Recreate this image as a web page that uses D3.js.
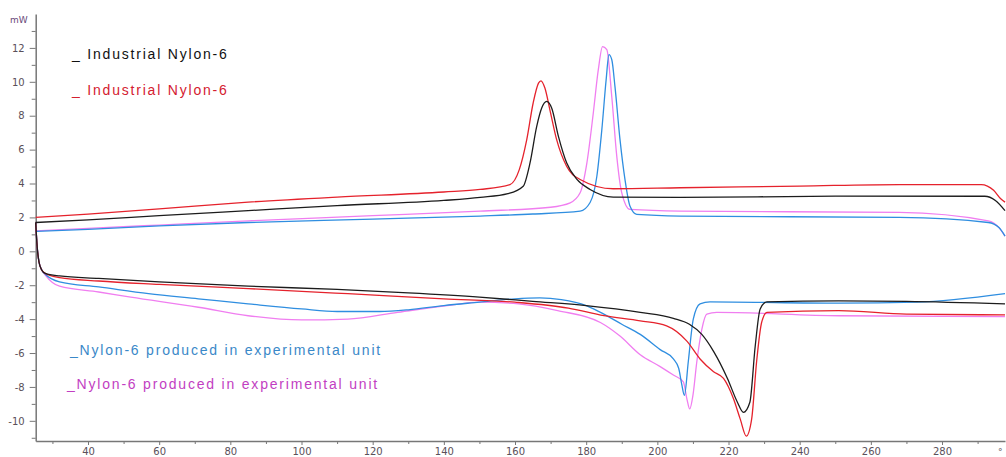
<!DOCTYPE html>
<html>
<head>
<meta charset="utf-8">
<script src="https://cdn.jsdelivr.net/npm/d3@7"></script>
<style>
  body { margin: 0; background: #fff; }
  .tick text { font-family: "DejaVu Sans", sans-serif; font-size: 10px; fill: #5a505a; }
  .axis path, .axis line { stroke: #777; }
  .legend { font-family: "Liberation Sans", Arial, sans-serif; font-size: 14px; letter-spacing: 1.8px; }
</style>
</head>
<body>
<div id="wrapper"></div>
<script>
// temperature (°C), heat flow (mW)
const blackCool = [[25.3,1.7],[40,1.85],[60,2.1],[85,2.4],[110,2.7],[140,3.0],[150.2,3.18],[158,3.4],[162.3,3.84],[164.2,5.2],[166.1,7.37],[167.5,8.45],[168.9,8.84],[170.3,8.45],[172.2,6.78],[174.5,5.22],[177.4,4.24],[181.1,3.65],[187.6,3.2],[206.4,3.18],[250,3.25],[292,3.25],[295,3.0],[297.7,2.4]]
const redCool = [[25.3,2.0],[40,2.2],[60,2.5],[85,2.9],[110,3.2],[140,3.5],[150.2,3.65],[158.6,3.94],[161.2,4.82],[163.3,6.59],[165.1,8.75],[166.6,9.92],[167.3,10.06],[168.4,9.63],[169.8,8.35],[171.7,6.59],[174.5,5.02],[178.3,4.24],[187.6,3.69],[206.4,3.75],[240,3.85],[268,3.94],[291,3.94],[294.5,3.6],[296.5,3.1],[297.7,2.9]]
const blueCool = [[25.3,1.18],[40,1.3],[60,1.5],[85,1.7],[120,1.9],[150.2,2.08],[165,2.2],[178.3,2.37],[181.1,2.88],[183,4.43],[184.4,7.18],[185.6,10.1],[186.4,11.6],[187.2,11.3],[188.1,9.7],[189.5,6.6],[190.9,4.24],[192.3,2.67],[194.2,2.18],[206.4,2.08],[268,2.0],[293,1.7],[296,1.4],[297.7,0.9]]
const pinkCool = [[25.3,1.2],[40,1.35],[60,1.55],[85,1.8],[120,2.1],[150.2,2.37],[170,2.6],[175.5,2.86],[178.3,3.45],[180.2,5.22],[182,8.16],[183.4,10.7],[184.6,12.08],[185.8,11.9],[187.2,9.1],[188.6,5.6],[190,3.45],[192.3,2.47],[206.4,2.37],[268,2.3],[293,1.8],[296,1.4],[297.7,0.9]]

const blackHeat = [[25.3,1.7],[25.7,0.3],[26.2,-0.6],[27,-1.1],[28,-1.3],[32,-1.45],[43,-1.6],[60,-1.8],[85,-2.05],[110,-2.25],[130,-2.45],[150,-2.7],[165,-2.95],[180,-3.2],[195.2,-3.6],[204.5,-3.95],[209,-4.3],[212.5,-4.9],[215.8,-5.9],[219.7,-7.5],[222.5,-8.9],[224.2,-9.5],[226,-8.9],[227.5,-5.6],[228.9,-3.4],[230.8,-2.98],[251,-2.92],[270,-2.95],[297.7,-3.1]]
const redHeat = [[25.3,1.7],[25.7,0.3],[26.2,-0.6],[27,-1.1],[28,-1.3],[32,-1.55],[43,-1.75],[60,-1.95],[85,-2.2],[113,-2.5],[140,-2.8],[160,-3.0],[175,-3.35],[185,-3.8],[195.2,-4.1],[202.6,-4.4],[208.3,-5.3],[212,-6.35],[215.8,-7.1],[218.6,-7.5],[221.4,-8.7],[223.3,-9.9],[225,-10.9],[226.5,-9.9],[227.9,-6.5],[229.3,-4.2],[230.8,-3.6],[251,-3.5],[270,-3.7],[297.7,-3.75]]
const blueHeat = [[25.3,1.7],[25.7,0.3],[26.2,-0.6],[27,-1.1],[28,-1.35],[32,-1.8],[43,-2.1],[57,-2.5],[71,-2.8],[85,-3.1],[100,-3.4],[110,-3.55],[122,-3.55],[130,-3.45],[140,-3.2],[150,-3.0],[160,-2.8],[167,-2.75],[173,-2.85],[180,-3.2],[184,-3.6],[190,-4.3],[195.2,-4.9],[200.8,-5.8],[204.5,-6.35],[206,-6.9],[206.9,-7.9],[207.6,-8.5],[208.7,-6.5],[210.1,-4.0],[212,-3.1],[214.8,-2.98],[251,-3.06],[273,-3.0],[297.7,-2.5]]
const pinkHeat = [[25.3,1.7],[25.7,0.3],[26.2,-0.6],[27,-1.1],[28,-1.4],[32,-2.06],[43,-2.4],[52,-2.7],[71,-3.3],[85,-3.8],[100,-4.05],[113,-4.0],[127,-3.6],[141,-3.2],[150,-3.0],[161,-3.1],[172,-3.5],[184,-4.2],[189.5,-5.0],[195.2,-6.1],[200.8,-6.8],[204.5,-7.3],[207.3,-7.7],[208.3,-8.7],[209.1,-9.3],[210,-8.5],[211.1,-6.5],[212.5,-4.6],[213.9,-3.7],[216.7,-3.6],[251,-3.8],[297.7,-3.85]]

const xTicks = [40,60,80,100,120,140,160,180,200,220,240,260,280]
const xMinor = [30,50,70,90,110,130,150,170,190,210,230,250,270,290]
const yTicks = [-10,-8,-6,-4,-2,0,2,4,6,8,10,12]
const yMinor = [-11,-9,-7,-5,-3,-1,1,3,5,7,9,11,13]

const legendLabels = ["_ Industrial Nylon-6", "_ Industrial Nylon-6", "_Nylon-6 produced in experimental unit", "_Nylon-6 produced in experimental unit"]

const width = 1006
const height = 457
const margin = {top: 14, right: 1, bottom: 16, left: 35.7}

const svg = d3.select("#wrapper").append("svg")
    .attr("width", width)
    .attr("height", height)

const x = d3.scaleLinear()
    .domain([25.3, 297.7])
    .range([margin.left, width - margin.right])
const y = d3.scaleLinear()
    .domain([-11.19, 14])
    .range([height - margin.bottom, margin.top])

// axes
const yAxis = svg.append("g").attr("class", "axis")
    .attr("transform", `translate(${margin.left},0)`)
    .call(d3.axisLeft(y).tickValues(yTicks).tickSize(6).tickSizeOuter(0).tickPadding(5))
svg.append("g").attr("class", "axis")
    .attr("transform", `translate(${margin.left},0)`)
    .call(d3.axisLeft(y).tickValues(yMinor).tickSize(4).tickSizeOuter(0).tickFormat(""))
    .select(".domain").remove()

svg.append("g").attr("class", "axis")
    .attr("transform", `translate(0,${height - margin.bottom})`)
    .call(d3.axisBottom(x).tickValues(xTicks).tickSize(4).tickSizeOuter(0).tickPadding(3))
svg.append("g").attr("class", "axis")
    .attr("transform", `translate(0,${height - margin.bottom})`)
    .call(d3.axisBottom(x).tickValues(xMinor).tickSize(3).tickSizeOuter(0).tickFormat(""))
    .select(".domain").remove()

svg.selectAll(".axis .domain").attr("stroke-width", 1.5)
yAxis.selectAll(".tick text").text(d => d < 0 ? "-" + Math.abs(d) : d)

svg.append("text")
    .attr("x", 10).attr("y", 23)
    .attr("font-family", "DejaVu Sans").attr("font-size", 9)
    .attr("fill", "#6a4a7a")
    .text("mW")
svg.append("text")
    .attr("x", 998).attr("y", 455)
    .attr("font-family", "DejaVu Sans").attr("font-size", 9)
    .attr("fill", "#5a505a")
    .text("°")

// curves
const line = d3.line()
    .x(d => x(d[0]))
    .y(d => y(d[1]))
    .curve(d3.curveMonotoneX)

const series = [
    {data: pinkCool, color: "#f07ef0"},
    {data: pinkHeat, color: "#f07ef0"},
    {data: blueCool, color: "#2f8ee0"},
    {data: blueHeat, color: "#2f8ee0"},
    {data: redCool, color: "#e5222c"},
    {data: redHeat, color: "#e5222c"},
    {data: blackCool, color: "#1c1c1c"},
    {data: blackHeat, color: "#1c1c1c"},
]

svg.append("g").selectAll("path")
    .data(series)
    .join("path")
    .attr("d", d => line(d.data))
    .attr("fill", "none")
    .attr("stroke", d => d.color)
    .attr("stroke-width", 1.3)

// legend
const legendPos = [[72, 59, "#111"], [72, 95, "#d42030"], [70, 355, "#3a88c8"], [67, 389, "#c23ec2"]]
svg.append("g").selectAll("text")
    .data(legendLabels)
    .join("text")
    .attr("class", "legend")
    .attr("x", (d, i) => legendPos[i][0])
    .attr("y", (d, i) => legendPos[i][1])
    .attr("fill", (d, i) => legendPos[i][2])
    .text(d => d)
</script>
</body>
</html>
